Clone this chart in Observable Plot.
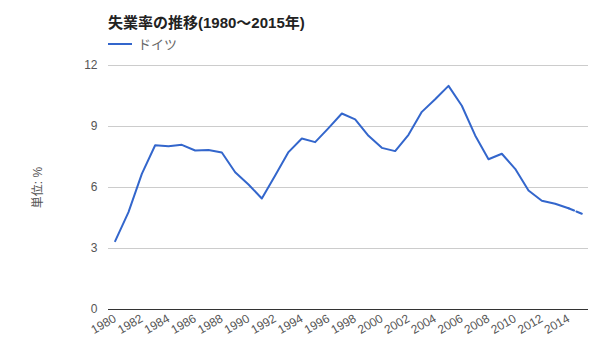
<!DOCTYPE html>
<html>
<head>
<meta charset="utf-8">
<script src="https://cdn.jsdelivr.net/npm/d3@7"></script>
<script src="https://cdn.jsdelivr.net/npm/@observablehq/plot@0.6"></script>
<style>
  html, body { margin: 0; padding: 0; background: #fff; }
  #wrap { position: relative; width: 600px; height: 360px; font-family: Arial, "Liberation Sans", "Noto Sans CJK JP", sans-serif; }
  #title { position: absolute; left: 108px; top: 11px; font-size: 15px; font-weight: bold; color: #222; white-space: nowrap; }
  #legend { position: absolute; left: 108px; top: 34px; font-size: 13px; color: #666; display: flex; align-items: center; }
  #legend .sw { display: inline-block; width: 24px; height: 2px; background: #3366cc; margin-right: 6px; }
  #chart { position: absolute; left: 0; top: 50px; }
</style>
</head>
<body>
<div id="wrap">
  <div id="title">失業率の推移(1980～2015年)</div>
  <div id="legend"><span class="sw"></span><span id="legname"></span></div>
  <div id="chart"></div>
</div>
<script>
const seriesName = "ドイツ";
const years = [1980,1981,1982,1983,1984,1985,1986,1987,1988,1989,1990,1991,1992,1993,1994,1995,1996,1997,1998,1999,2000,2001,2002,2003,2004,2005,2006,2007,2008,2009,2010,2011,2012,2013,2014,2015];
const rates = [3.36,4.79,6.67,8.08,8.03,8.10,7.82,7.84,7.72,6.75,6.15,5.46,6.59,7.74,8.41,8.23,8.92,9.64,9.35,8.54,7.95,7.79,8.59,9.72,10.34,11.0,10.02,8.56,7.39,7.66,6.92,5.85,5.35,5.20,4.98,4.71];
const estimateFrom = 2014;
const xTicks = [1980,1982,1984,1986,1988,1990,1992,1994,1996,1998,2000,2002,2004,2006,2008,2010,2012,2014];
const yTicks = [0,3,6,9,12];
const yLabel = "単位: %";

document.getElementById("legname").textContent = seriesName;

const data = years.map((y, i) => ({year: y, rate: rates[i]}));
const actual = data.filter(d => d.year <= estimateFrom);
const estimate = data.filter(d => d.year >= estimateFrom);

const chart = Plot.plot({
  width: 600,
  height: 310,
  marginLeft: 108,
  marginRight: 12,
  marginTop: 15,
  marginBottom: 51,
  style: {fontFamily: 'Arial, "Liberation Sans", "Noto Sans CJK JP", sans-serif', fontSize: "12px", color: "#555", background: "#fff"},
  x: {domain: [1979.5, 2015.5]},
  y: {domain: [0, 12]},
  marks: [
    Plot.gridY(yTicks, {stroke: "#ccc", strokeOpacity: 1}),
    Plot.axisY({ticks: yTicks, tickSize: 0, tickPadding: 11, fill: "#555", label: yLabel, labelAnchor: "center", labelArrow: "none", labelOffset: 75}),
    Plot.axisX({ticks: xTicks, tickFormat: d => String(d), tickRotate: -30, tickSize: 0, tickPadding: 8, fill: "#555", label: null}),
    Plot.ruleY([0], {stroke: "#333", strokeWidth: 1.2}),
    Plot.line(actual, {x: "year", y: "rate", stroke: "#3366cc", strokeWidth: 2}),
    Plot.line(estimate, {x: "year", y: "rate", stroke: "#3366cc", strokeWidth: 2, strokeDasharray: "6,2.5"})
  ]
});
document.getElementById("chart").appendChild(chart);
</script>
</body>
</html>
